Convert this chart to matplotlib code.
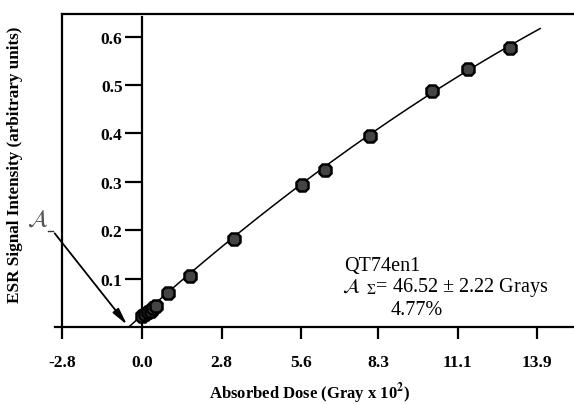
import numpy as np
import matplotlib
matplotlib.use("Agg")
import matplotlib.pyplot as plt

# data
dose = [0.0, 0.1, 0.2, 0.3, 0.4, 0.5, 0.93, 1.69, 3.25, 5.61, 6.43, 8.02, 10.19, 11.47, 12.94]
esr = [0.022, 0.026, 0.030, 0.034, 0.039, 0.043, 0.070, 0.106, 0.182, 0.294, 0.324, 0.395, 0.487, 0.534, 0.576]
x_ticks = [-2.8, 0.0, 2.8, 5.6, 8.3, 11.1, 13.9]
y_ticks = [0.1, 0.2, 0.3, 0.4, 0.5, 0.6]
dose_zero = -0.4652   # 46.52 Grays, in units of 10^2 Gy
fit_end = 14.0

plt.rcParams['font.family'] = ['Liberation Serif', 'DejaVu Serif']
plt.rcParams['mathtext.fontset'] = 'stix'

fig = plt.figure(figsize=(5.74, 4.06), dpi=100)
ax = fig.add_axes([55 / 574, 78 / 406, 519 / 574, 313 / 406])
ax.set_xlim(-3.059, 15.19)
ax.set_ylim(0, 0.6467)

# fitted curve (quadratic fit to the points), from the zero crossing to the end
coef = np.polyfit(dose, esr, 2)
xf = np.linspace(dose_zero, fit_end, 200)
yf = np.polyval(coef, xf)
yf = yf - np.polyval(coef, dose_zero) * (1 - (xf - dose_zero) / (fit_end - dose_zero))
ax.plot(xf, yf, color='black', lw=1.1, zorder=2)

ax.plot(dose, esr, ls='none', marker='8', ms=9.5, mfc='#444444', mec='black', mew=1.8, zorder=3)

# spines: y axis drawn at x=0, a frame line at x=-2.8
ax.spines['right'].set_visible(False)
ax.spines['left'].set_position(('data', 0))
ax.spines['left'].set_bounds(0, 0.64)
ax.spines['top'].set_bounds(-2.8, 15.19)
for s in ['left', 'top', 'bottom']:
    ax.spines[s].set_linewidth(1.6)
ax.plot([-2.8, -2.8], [0, 0.6467], color='black', lw=1.6, clip_on=False, zorder=1)

ax.set_xticks(x_ticks)
ax.set_xticklabels([f'{v:.1f}' for v in x_ticks], fontweight='bold', fontsize=12.5)
ax.set_yticks(y_ticks)
ax.set_yticklabels([f'{v:.1f}' for v in y_ticks], fontweight='bold', fontsize=12.5)
ax.tick_params(axis='x', direction='out', length=8.5, width=1.6, pad=11)
ax.tick_params(axis='y', direction='out', length=12, width=1.6, pad=2)

fig.text(310 / 574, 1 - 394 / 406, r'Absorbed Dose (Gray x 10$^\mathbf{2}$)', fontweight='bold',
         fontsize=12, ha='center', va='center')
fig.text(15 / 574, 1 - 165 / 406, 'ESR Signal Intensity (arbitrary units)', rotation=90,
         fontweight='bold', fontsize=12.3, ha='center', va='center')

# equivalent dose arrow
ax.annotate('', xy=(dose_zero, 0.0), xytext=(-3.13, 0.198),
            arrowprops=dict(arrowstyle='-|>,head_length=1.0,head_width=0.22', color='black', lw=1.3),
            annotation_clip=False)
ax.plot([-3.3, -3.13], [0.198, 0.198], color='#333333', lw=1.0, clip_on=False)
ax.text(-3.66, 0.222, r'$\mathcal{A}$', fontsize=17, color='#555555', ha='center', va='center',
        clip_on=False)

ax.text(7.1, 0.128, 'QT74en1', fontsize=14.5, va='center')
ax.text(7.05, 0.083, r'$\mathcal{A}_{\ \ \Sigma}$= 46.52 ± 2.22 Grays', fontsize=14.5, va='center')
ax.text(8.75, 0.036, '4.77%', fontsize=14.5, va='center')

fig.savefig('out.png', dpi=100)
